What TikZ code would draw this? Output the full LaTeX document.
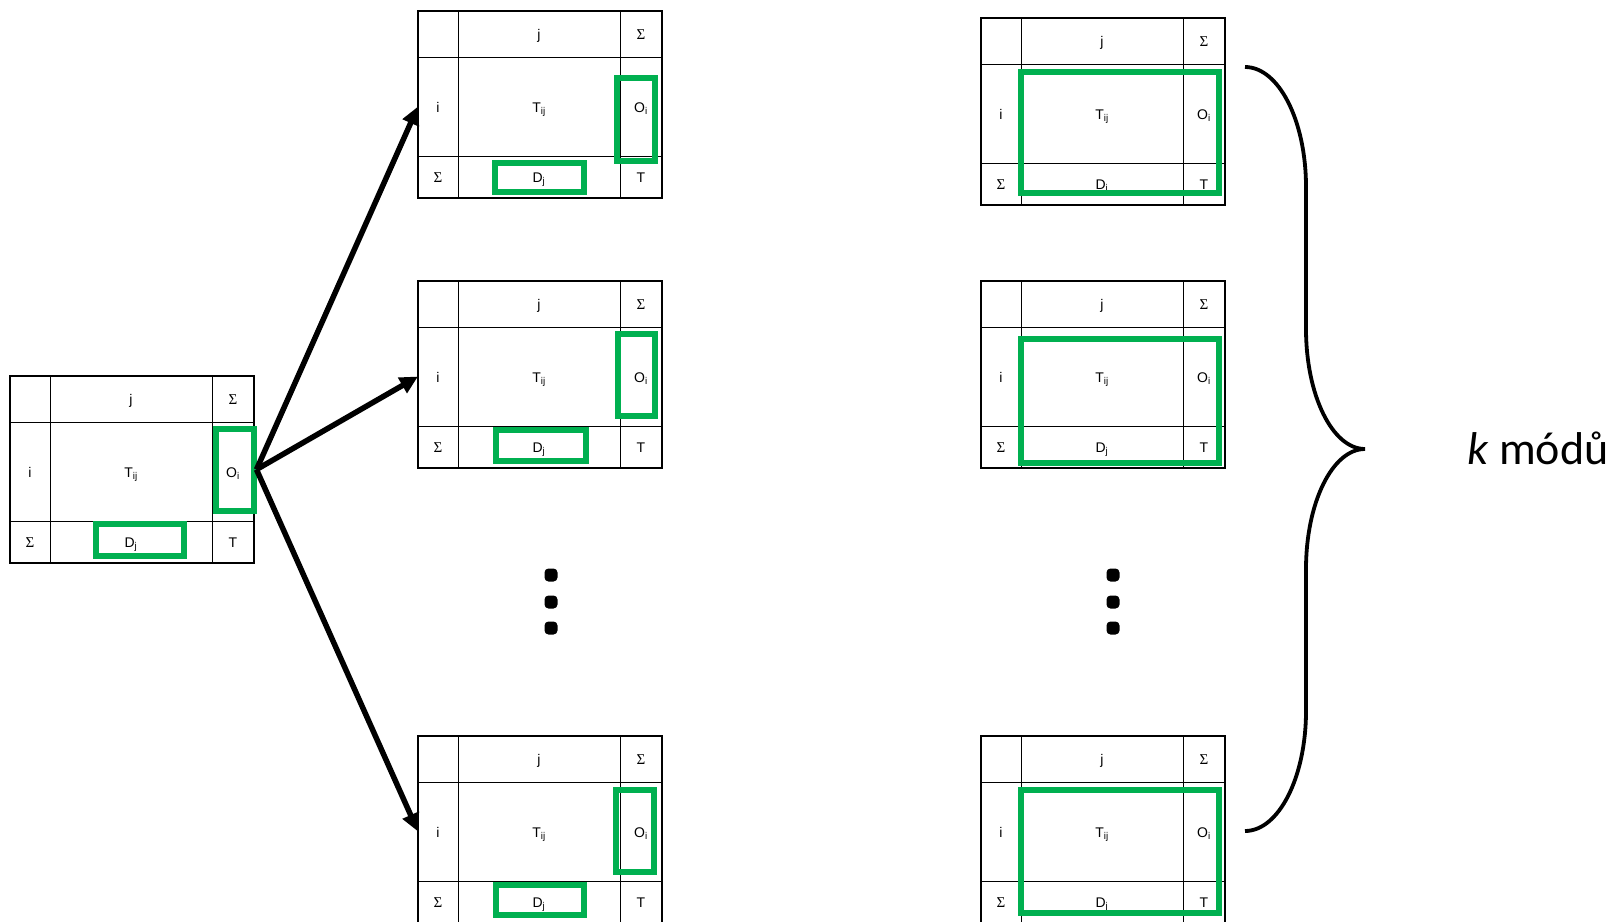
\documentclass[tikz,border=0pt]{standalone}
\usepackage{fontspec}
\setmainfont{Liberation Sans}
\newfontfamily\symfont{Liberation Serif}
\newfontfamily\labelfont{Carlito}
\usetikzlibrary{arrows.meta}
\definecolor{selgreen}{RGB}{0,176,80}

\tikzset{
  cell/.style={inner sep=0pt, text height=10pt, text depth=0pt,
    font=\fontsize{14}{16}\selectfont},
  sigcell/.style={inner sep=0pt, text height=10pt, text depth=0pt,
    font=\symfont\fontsize{15}{17}\selectfont},
  frame/.style={line width=2pt},
  rule/.style={line width=1pt},
  sel/.style={draw=selgreen, line width=6pt, inner sep=0pt},
  flow/.style={line width=5.5pt, -{Triangle[length=18pt,width=17pt]}},
  brace line/.style={line width=3.8pt},
  dot/.style={fill=black, rounded corners=4pt},
  % one origin/destination table: 244 x 187, columns 40|162|42, rows 46|99|42
  tbl/.pic={
    \draw[rule] (40,0) -- (40,187) (202,0) -- (202,187)
                (0,46) -- (244,46) (0,145) -- (244,145);
    \draw[frame] (0,0) rectangle (244,187);
    \node[cell]    (-j)  at (121,23.5)  {j};
    \node[sigcell] (-sa) at (223,23.5)  {Σ};
    \node[cell]    (-i)  at (20,96.5)   {i};
    \node[cell]    (-t)  at (121,96.5)  {T\textsubscript{ij}};
    \node[cell]    (-o)  at (223,96.5)  {O\textsubscript{i}};
    \node[sigcell] (-sb) at (20,166)  {Σ};
    \node[cell]    (-d)  at (121,166) {D\textsubscript{j}};
    \node[cell]    (-tt) at (223,166) {T};
    \coordinate (-in) at (0,95.5);
  }
}

\begin{document}
\begin{tikzpicture}[x=1pt, y=-1pt]
\useasboundingbox (0,0) rectangle (1614,921);

% tables
\pic (L)  at (10,376)  {tbl};
\pic (M1) at (418,11)  {tbl};
\pic (M2) at (418,281) {tbl};
\pic (M3) at (418,736) {tbl};
\pic (R1) at (981,18)  {tbl};
\pic (R2) at (981,281) {tbl};
\pic (R3) at (981,736) {tbl};

% selected margins
\node[sel, minimum width=38, minimum height=82] (Lo) at (234.5,469.5) {};
\node[sel, minimum width=88, minimum height=32] (Ld) at (139.5,539.5) {};
\node[sel, minimum width=38, minimum height=83] (M1o) at (635.5,119) {};
\node[sel, minimum width=89, minimum height=29] (M1d) at (539,177) {};
\node[sel, minimum width=37, minimum height=82] (M2o) at (636,374.5) {};
\node[sel, minimum width=90, minimum height=31] (M2d) at (540.5,445) {};
\node[sel, minimum width=38, minimum height=82] (M3o) at (634.5,830.5) {};
\node[sel, minimum width=88, minimum height=30] (M3d) at (539.5,899.5) {};
\node[sel, minimum width=198, minimum height=121] (R1s) at (1119.5,132) {};
\node[sel, minimum width=198, minimum height=124] (R2s) at (1119.5,400.5) {};
\node[sel, minimum width=198, minimum height=123] (R3s) at (1119.5,851) {};

% split arrows
\draw[flow] (Lo.east) -- (M1-in);
\draw[flow] (Lo.east) -- (M2-in);
\draw[flow] (Lo.east) -- (M3-in);

% vertical ellipses
\foreach \y in {568.5,595.5,621.5}{
  \fill[dot] (544.5,\y) rectangle +(13,13);
  \fill[dot] (1106.5,\y) rectangle +(13,13);
}

% curly brace
\draw[brace line] (1245,67) .. controls (1278.7,67) and (1306,120.7) .. (1306,187)
  -- (1306,329) .. controls (1306,395.3) and (1332.4,449) .. (1365,449)
  .. controls (1332.4,449) and (1306,502.7) .. (1306,569)
  -- (1306,711) .. controls (1306,777.3) and (1278.7,831) .. (1245,831);

\node[anchor=base west, inner sep=0pt, font=\labelfont\fontsize{46}{55}\selectfont]
  (modes) at (1467,464) {\textit{k} módů};
\end{tikzpicture}
\end{document}
